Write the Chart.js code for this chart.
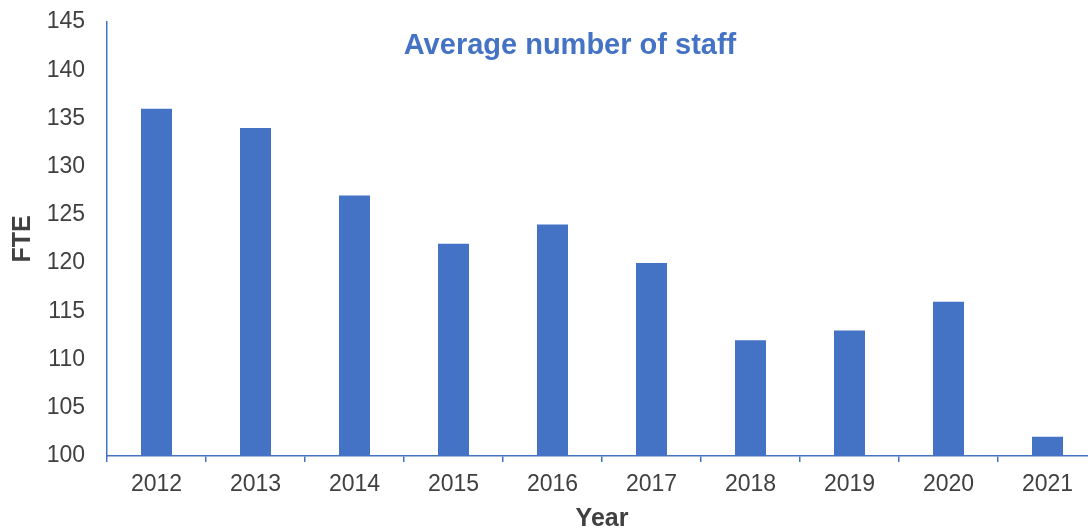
<!DOCTYPE html>
<html lang="en">
<head>
    <meta charset="UTF-8">
    <title>Average number of staff</title>
    <script src="https://cdn.jsdelivr.net/npm/chart.js"></script>
    <style>
        html, body { margin: 0; padding: 0; background: #fff; overflow: hidden; }
        /* plot runs a little past the right edge, as in the original */
        #wrap { width: 1097px; height: 530px; }
    </style>
</head>
<body>
    <div id="wrap"><canvas id="staffChart"></canvas></div>
    <script>
        const years = ['2012', '2013', '2014', '2015', '2016', '2017', '2018', '2019', '2020', '2021'];
        const fte = [136, 134, 127, 122, 124, 120, 112, 113, 116, 102];
        const yMin = 100;
        const yMax = 145;
        const yStep = 5;

        const blue = '#4472C4';
        const grey = '#404040';
        const family = '"Liberation Sans", Arial, sans-serif';

        // title sits inside the plot area, so draw it by hand
        const titleInside = {
            id: 'titleInside',
            afterDraw(chart) {
                const ctx = chart.ctx;
                ctx.save();
                ctx.font = 'bold 29px ' + family;
                ctx.fillStyle = blue;
                ctx.textAlign = 'center';
                ctx.textBaseline = 'alphabetic';
                ctx.fillText('Average number of staff', 570, 54);
                ctx.restore();
            }
        };

        const ctx = document.getElementById('staffChart').getContext('2d');
        new Chart(ctx, {
            type: 'bar',
            data: {
                labels: years,
                datasets: [{
                    label: 'FTE',
                    data: fte,
                    backgroundColor: blue,
                    barPercentage: 0.313,
                    categoryPercentage: 1.0
                }]
            },
            options: {
                responsive: true,
                maintainAspectRatio: false,
                animation: false,
                layout: { padding: { top: 22, right: 0, bottom: 0, left: 0 } },
                plugins: {
                    legend: { display: false },
                    tooltip: { enabled: false }
                },
                scales: {
                    x: {
                        grid: { display: true, drawOnChartArea: false, tickLength: 6, color: blue, lineWidth: 1.5 },
                        border: { display: true, color: blue, width: 1.5 },
                        ticks: { color: grey, font: { family: family, size: 23 }, padding: 9, maxRotation: 0 },
                        title: { display: true, text: 'Year', color: grey, font: { family: family, size: 25, weight: 'bold' }, padding: { top: 0, bottom: -4 } },
                        afterFit(scale) { scale.height = 74; }
                    },
                    y: {
                        min: yMin,
                        max: yMax,
                        grid: { display: false, drawTicks: false },
                        border: { display: true, color: blue, width: 1.5 },
                        ticks: { stepSize: yStep, color: grey, font: { family: family, size: 23 }, padding: 22 },
                        title: { display: true, text: 'FTE', color: grey, font: { family: family, size: 25, weight: 'bold' }, padding: { top: 8, bottom: 0 } },
                        afterFit(scale) {
                            scale.width = 107;
                            scale.paddingTop = 0;
                            scale.paddingBottom = 0;
                        }
                    }
                }
            },
            plugins: [titleInside]
        });
    </script>
</body>
</html>
